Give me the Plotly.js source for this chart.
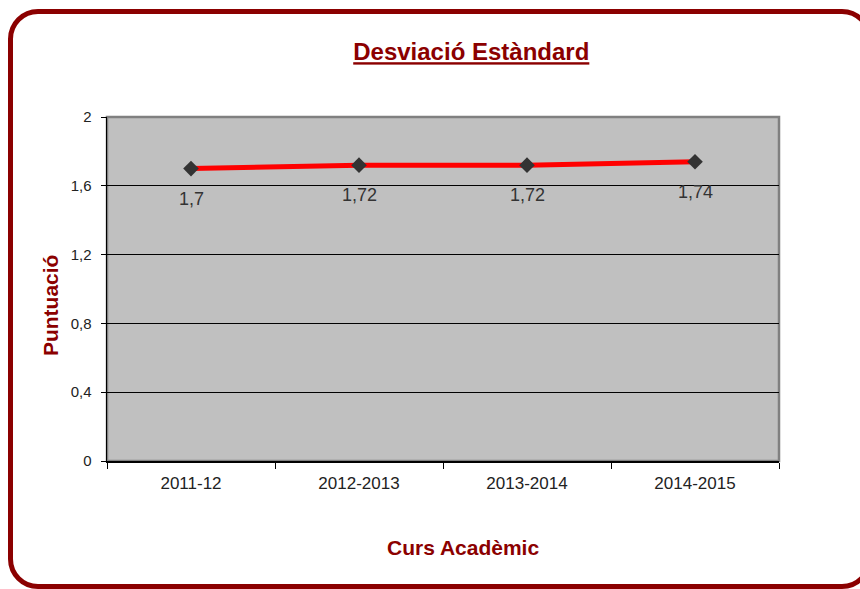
<!DOCTYPE html>
<html>
<head>
<meta charset="utf-8">
<script src="https://cdn.plot.ly/plotly-3.0.1.min.js"></script>
<style>
  html, body { margin: 0; padding: 0; background: #ffffff; overflow: hidden; }
  #frame {
    position: absolute; left: 8px; top: 9px;
    width: 864px; height: 580px; box-sizing: border-box;
    border: 5px solid #8b0000; border-radius: 30px;
    pointer-events: none; z-index: 2;
  }
  #chart { position: absolute; left: 0; top: 0; width: 860px; height: 589px; }
</style>
</head>
<body>
<div id="chart"></div>
<div id="frame"></div>
<script>
// Desviació estàndard per curs acadèmic
const cursos = ['2011-12', '2012-2013', '2013-2014', '2014-2015'];
const desviacio = [1.7, 1.72, 1.72, 1.74];
const yTicks = [0, 0.4, 0.8, 1.2, 1.6, 2];

const fmt = v => String(v).replace('.', ',');
const darkRed = '#8b0000';

const trace = {
  x: cursos,
  y: desviacio,
  type: 'scatter',
  mode: 'lines+markers',
  line: { color: '#ff0000', width: 5 },
  marker: { symbol: 'diamond', size: 12, color: '#333333' },
  hoverinfo: 'skip'
};

// etiquetes de dades sota cada punt
const labels = cursos.map((c, i) => ({
  x: c,
  y: desviacio[i],
  text: fmt(desviacio[i]),
  showarrow: false,
  yshift: -30,
  font: { family: 'Arial, Liberation Sans, sans-serif', size: 18, color: '#333333' }
}));

const layout = {
  width: 860,
  height: 589,
  margin: { l: 107, r: 81, t: 117, b: 128 },
  paper_bgcolor: 'rgba(0,0,0,0)',
  plot_bgcolor: '#c0c0c0',
  separators: ', ',
  showlegend: false,
  font: { family: 'Arial, Liberation Sans, sans-serif', color: '#222222' },
  title: {
    text: '<b>Desviació Estàndard</b>',
    x: 0.548,
    xanchor: 'center',
    y: 0.912,
    yanchor: 'middle',
    font: { size: 24, color: darkRed, lineposition: 'under' }
  },
  xaxis: {
    type: 'category',
    range: [-0.5, cursos.length - 0.5],
    showline: true,
    linecolor: '#000000',
    linewidth: 1.5,
    ticks: 'outside',
    tickson: 'boundaries',
    ticklen: 6,
    tickcolor: '#000000',
    showgrid: false,
    tickfont: { size: 17, color: '#222222' },
    ticklabelstandoff: 6,
    fixedrange: true
  },
  yaxis: {
    range: [0, 2],
    tickvals: yTicks,
    ticktext: yTicks.map(fmt),
    showline: true,
    linecolor: '#000000',
    linewidth: 1.5,
    ticks: 'outside',
    ticklen: 5,
    tickcolor: '#000000',
    showgrid: true,
    gridcolor: '#000000',
    gridwidth: 1,
    zeroline: false,
    tickfont: { size: 15, color: '#222222' },
    ticklabelstandoff: 6,
    fixedrange: true
  },
  shapes: [{
    type: 'rect', xref: 'paper', yref: 'paper',
    x0: 0, x1: 1, y0: 0, y1: 1,
    line: { color: '#808080', width: 2.5 },
    layer: 'below'
  }],
  annotations: labels.concat([
    {
      text: '<b>Curs Acadèmic</b>',
      xref: 'paper', yref: 'paper', x: 0.53, y: -0.25,
      xanchor: 'center', yanchor: 'middle', showarrow: false,
      font: { size: 21, color: darkRed }
    },
    {
      text: '<b>Puntuació</b>',
      xref: 'paper', yref: 'paper', x: -0.084, y: 0.452,
      xanchor: 'center', yanchor: 'middle', showarrow: false, textangle: -90,
      font: { size: 21, color: darkRed }
    }
  ])
};

Plotly.newPlot('chart', [trace], layout, { displayModeBar: false, staticPlot: true });
</script>
</body>
</html>
